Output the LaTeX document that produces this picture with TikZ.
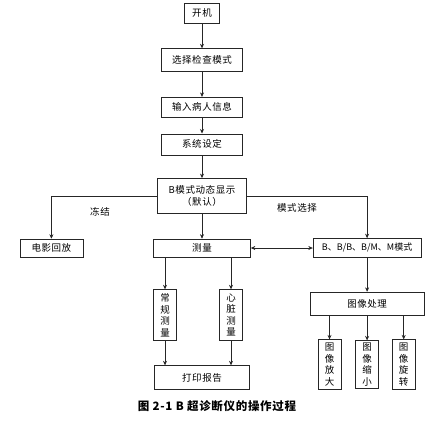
\documentclass[tikz,border=0pt]{standalone}
\usepackage{fontspec}
\newfontfamily\cjk[LetterSpace=6]{Noto Sans CJK SC}
\newfontfamily\cjktight{Noto Sans CJK SC}
\usetikzlibrary{arrows.meta,positioning}
\definecolor{FlowLine}{HTML}{262626}

\begin{document}
\begin{tikzpicture}[
  x=1pt,y=-1pt,
  box/.style={draw=FlowLine,line width=0.6pt,align=center,inner sep=1pt,font=\cjk\fontsize{9.5}{11.5}\selectfont,minimum height=20pt},
  vbox/.style={box,minimum width=23pt,minimum height=51pt,font=\cjk\fontsize{9.5}{11.5}\selectfont},
  arr/.style={draw=FlowLine,line width=0.6pt,-{Stealth[length=4.5pt,width=4pt]}},
  lbl/.style={font=\cjk\fontsize{9.5}{11}\selectfont},
]
\useasboundingbox (0,0) rectangle (433,424);
\node[box,minimum width=35pt] (a) at (202,13) {开机};
\node[box,minimum width=81pt,minimum height=23pt,below=25pt of a] (b) {选择检查模式};
\node[box,minimum width=81pt,below=25pt of b] (c) {输入病人信息};
\node[box,minimum width=81pt,minimum height=21pt,below=16pt of c] (d) {系统设定};
\node[box,minimum width=89pt,minimum height=35pt,below=23pt of d] (e) {B模式动态显示\\（默认）};
\node[box,minimum width=97pt,minimum height=18pt,below=25pt of e] (g) {测量};
\node[box,minimum width=63pt,minimum height=18pt,left=70pt of g] (f) {电影回放};
\node[box,minimum width=108pt,minimum height=19pt,right=62pt of g,font=\cjktight\fontsize{9}{10}\selectfont] (h) {B、B/B、B/M、M模式};
\node[box,minimum width=114pt,minimum height=23pt,below=34pt of h] (i) {图像处理};
\node[vbox,below=32pt of g,xshift=-37pt] (k) {常\\规\\测\\量};
\node[vbox,below=32pt of g,xshift=29pt] (l) {心\\脏\\测\\量};
\node[box,minimum width=95pt,minimum height=24pt,below=108pt of g] (m) {打印报告};
\node[vbox,minimum height=48pt,below=25pt of i] (o) {图\\像\\缩\\小};
\node[vbox,minimum height=50pt,left=14pt of o] (n) {图\\像\\放\\大};
\node[vbox,minimum height=50pt,right=13pt of o] (p) {图\\像\\旋\\转};
\node[lbl] (q) at (100,212) {冻结};
\node[lbl] (r) at (297,208) {模式选择};
\node[font=\cjk\bfseries\fontsize{11.5}{13}\selectfont] (s) at (217,406) {图 2-1 B 超诊断仪的操作过程};
\draw[arr] (a) -- (b);
\draw[arr] (b) -- (c);
\draw[arr] (c) -- (d);
\draw[arr] (d) -- (e);
\draw[arr] (e) -- (g);
\draw[arr] (e.west) -| (f.north);
\draw[arr] (e.east) -| (h.north);
\draw[arr,{Stealth[length=4.5pt,width=4pt]}-{Stealth[length=4.5pt,width=4pt]}] (g) -- (h);
\draw[arr] (h) -- (i);
\draw[arr] (g.south -| k) -- (k);
\draw[arr] (g.south -| l) -- (l);
\draw[arr] (k) -- (k |- m.north);
\draw[arr] (l) -- (l |- m.north);
\draw[arr] (i.south -| n) -- (n);
\draw[arr] (i.south -| o) -- (o);
\draw[arr] (i.south -| p) -- (p);
\end{tikzpicture}
\end{document}
